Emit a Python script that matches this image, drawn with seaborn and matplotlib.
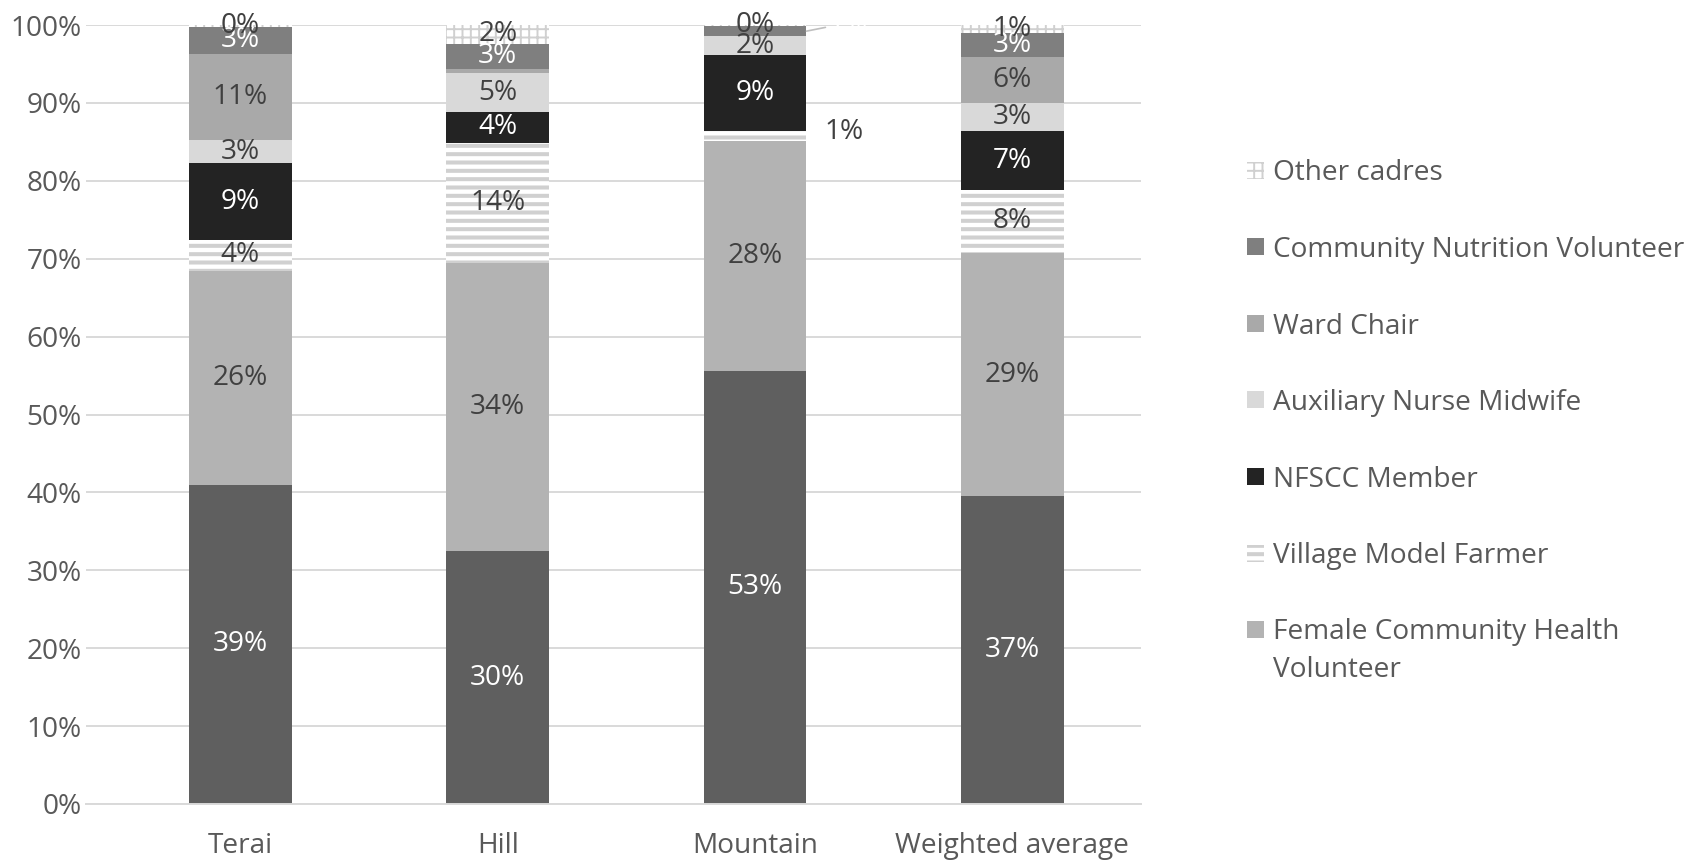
import numpy as np
import matplotlib
matplotlib.use("Agg")
import matplotlib.pyplot as plt
from matplotlib.patches import Rectangle
import seaborn as sns

sns.set_theme(style="white")
plt.rcParams["font.family"] = ["Open Sans", "DejaVu Sans"]

regions = ["Terai", "Hill", "Mountain", "Weighted average"]

# Percentage of respondents naming each cadre, by region
first_cadre = [39.0, 30.0, 52.8, 37.0]
fchv = [26.1, 34.2, 28.0, 29.3]
village_model_farmer = [3.8, 14.3, 1.2, 7.6]
nfscc_member = [9.3, 3.6, 9.3, 7.0]
aux_nurse_midwife = [2.8, 4.6, 2.2, 3.4]
ward_chair = [10.6, 0.55, 0.0, 5.6]
community_nutrition_vol = [3.3, 3.0, 1.3, 2.8]
other_cadres = [0.2, 2.2, 0.1, 1.0]

series_names = [
    "_first",
    "Female Community Health Volunteer",
    "Village Model Farmer",
    "NFSCC Member",
    "Auxiliary Nurse Midwife",
    "Ward Chair",
    "Community Nutrition Volunteer",
    "Other cadres",
]
series_values = [
    first_cadre, fchv, village_model_farmer, nfscc_member,
    aux_nurse_midwife, ward_chair, community_nutrition_vol, other_cadres,
]

# fill / hatch styling per series
styles = {
    "_first": dict(face="#5f5f5f", text="white"),
    "Female Community Health Volunteer": dict(face="#b3b3b3", text="#404040"),
    "Village Model Farmer": dict(face="white", edge="#d0d0d0", hatch="--", hlw=2.9, text="#404040"),
    "NFSCC Member": dict(face="#232323", text="white"),
    "Auxiliary Nurse Midwife": dict(face="#d9d9d9", text="#404040"),
    "Ward Chair": dict(face="#a9a9a9", text="#404040"),
    "Community Nutrition Volunteer": dict(face="#7f7f7f", text="white"),
    "Other cadres": dict(face="white", edge="#d0d0d0", hatch="++", hlw=1.4, text="#404040"),
}

TEXT = "#595959"
FS = 20.2
LFS = 20.2

fig = plt.figure(figsize=(16.92, 8.61), dpi=100)
ax = fig.add_axes([86 / 1692, 1 - 804 / 861, (1141 - 86) / 1692, (804 - 25) / 861])
ax.set_axisbelow(True)

totals = np.sum(np.array(series_values, dtype=float), axis=0)
bottom = np.zeros(len(regions))

for name, vals in zip(series_names, series_values):
    vals = np.asarray(vals, dtype=float)
    share = vals / totals * 100
    st = styles[name]
    hlw = st.get("hlw", 1.0)
    with plt.rc_context({"hatch.linewidth": hlw}):
        sns.barplot(
            x=regions, y=share, order=regions, bottom=bottom,
            color=st["face"], saturation=1, width=0.4,
            edgecolor=st.get("edge", st["face"]), linewidth=0,
            hatch=st.get("hatch"), ax=ax, errorbar=None,
        )
    cont = ax.containers[-1]
    for p in cont.patches:
        if hasattr(p, "set_hatch_linewidth"):
            p.set_hatch_linewidth(hlw)

    labels = []
    for i, region in enumerate(regions):
        txt = f"{vals[i]:.0f}%"
        if name == "Ward Chair" and region in ("Hill", "Mountain"):
            txt = ""
        if region == "Mountain" and name in ("Village Model Farmer", "Community Nutrition Volunteer"):
            txt = ""
        labels.append(txt)
    ax.bar_label(cont, labels=labels, label_type="center", color=st["text"], fontsize=FS)

    # labels of thin Mountain segments sit beside the bar
    m = regions.index("Mountain")
    ctr = bottom[m] + share[m] / 2
    if name == "Village Model Farmer":
        ax.annotate(f"{vals[m]:.0f}%", xy=(m + 0.2, ctr), xytext=(13, 3),
                    textcoords="offset points", ha="left", va="center",
                    color="#404040", fontsize=FS)
    if name == "Community Nutrition Volunteer":
        ax.annotate(f"{vals[m]:.0f}%", xy=(m + 0.2, ctr), xytext=(16, 6),
                    textcoords="offset points", ha="left", va="center",
                    color="white", fontsize=FS,
                    arrowprops=dict(arrowstyle="-", color="#bfbfbf", lw=1.2,
                                    shrinkA=0, shrinkB=0))
    bottom = bottom + share

ax.set_ylim(0, 100)
ax.set_xlim(-0.6, 3.5)
ax.set_yticks(np.arange(0, 101, 10))
ax.set_yticklabels([f"{t}%" for t in range(0, 101, 10)])
ax.yaxis.grid(True, color="#d9d9d9", linewidth=1.4)
ax.xaxis.grid(False)
for s in ("left", "right", "top"):
    ax.spines[s].set_visible(False)
ax.spines["bottom"].set_color("#d9d9d9")
ax.spines["bottom"].set_linewidth(1.4)
ax.tick_params(axis="y", length=0, pad=3, labelsize=FS, labelcolor=TEXT)
ax.tick_params(axis="x", length=0, pad=20, labelsize=FS, labelcolor=TEXT)
ax.set_xlabel("")
ax.set_ylabel("")

# legend, drawn top to bottom in reverse stacking order
W, H = 1692, 861
row0, step = 170, 76.6
legend_items = [n for n in series_names if not n.startswith("_")][::-1]
for k, name in enumerate(legend_items):
    st = styles[name]
    yc = row0 + k * step
    with plt.rc_context({"hatch.linewidth": st.get("hlw", 1.0)}):
        r = Rectangle(((1247) / W, 1 - (yc + 8.5) / H), 17 / W, 17 / H,
                      transform=fig.transFigure, facecolor=st["face"],
                      edgecolor=st.get("edge", st["face"]), linewidth=0,
                      hatch=st.get("hatch"))
    if hasattr(r, "set_hatch_linewidth"):
        r.set_hatch_linewidth(st.get("hlw", 1.0))
    fig.add_artist(r)
    if name.startswith("Female"):
        # two-line label: anchor the baseline of the second line
        fig.text(1273 / W, 1 - (yc + 12.9 + 38.3 - 4) / H,
                 "Female Community Health\nVolunteer", ha="left", va="baseline",
                 color=TEXT, fontsize=LFS, linespacing=1.485)
    else:
        fig.text(1273 / W, 1 - yc / H, name, ha="left", va="center_baseline",
                 color=TEXT, fontsize=LFS)

fig.savefig("out.png", dpi=100)
